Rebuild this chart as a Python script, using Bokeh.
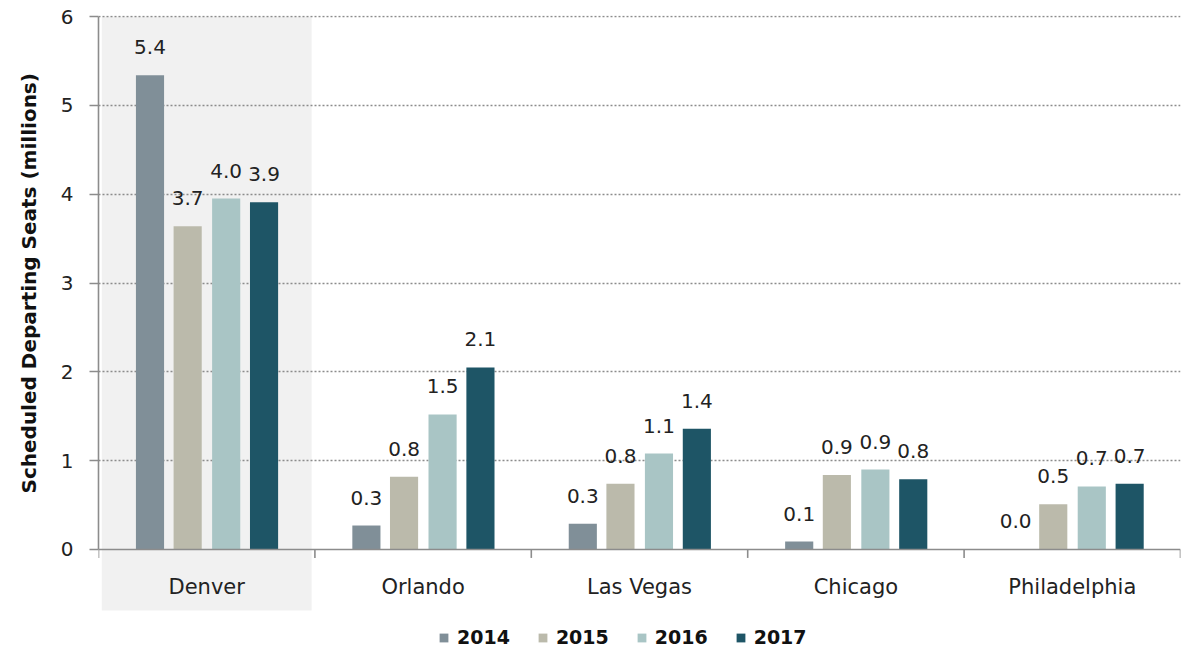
from bokeh.plotting import figure
from bokeh.models import ColumnDataSource, FixedTicker, Legend, LegendItem, BoxAnnotation, Range1d, Span, Title
from bokeh.transform import dodge
from bokeh.core.properties import value
from bokeh.embed import file_html
from bokeh.resources import INLINE

cities = ["Denver", "Orlando", "Las Vegas", "Chicago", "Philadelphia"]
years = ["2014", "2015", "2016", "2017"]
seats_2014 = [5.34, 0.27, 0.29, 0.09, 0.0]
seats_2015 = [3.64, 0.82, 0.74, 0.84, 0.51]
seats_2016 = [3.95, 1.52, 1.08, 0.90, 0.71]
seats_2017 = [3.91, 2.05, 1.36, 0.79, 0.74]
labels_2014 = ["5.4", "0.3", "0.3", "0.1", "0.0"]
labels_2015 = ["3.7", "0.8", "0.8", "0.9", "0.5"]
labels_2016 = ["4.0", "1.5", "1.1", "0.9", "0.7"]
labels_2017 = ["3.9", "2.1", "1.4", "0.8", "0.7"]
y_ticks = [0, 1, 2, 3, 4, 5, 6]
y_title = "Scheduled Departing Seats (millions)"

colors = ["#808f98", "#bbbaab", "#a9c5c5", "#1e5566"]
offsets = [-0.262, -0.088, 0.09, 0.265]
FONT = "DejaVu Sans"
AXIS_GREY = "#8c8c8c"

n = len(cities)
src = ColumnDataSource(dict(
    x=[i + 0.5 for i in range(n)], city=cities,
    s2014=seats_2014, s2015=seats_2015, s2016=seats_2016, s2017=seats_2017,
    l2014=labels_2014, l2015=labels_2015, l2016=labels_2016, l2017=labels_2017,
))
bounds = ColumnDataSource(dict(x=list(range(n + 1))))

# frame spans the category-label and legend area too; y=0 sits at the axis line
p = figure(width=1182, height=648, x_range=Range1d(0, n), y_range=Range1d(-1.1145, 6.0113),
           output_backend="svg", toolbar_location=None, x_axis_location=None,
           min_border_left=97, min_border_top=15, min_border_right=2, min_border_bottom=0)
p.outline_line_color = None

shade = BoxAnnotation(left=0.015, right=0.985, top=6, bottom=-0.687,
                      fill_color="#f1f1f1", fill_alpha=1, line_color=None, level="image")
p.add_layout(shade)

items = []
for yr, col, off in zip(years, colors, offsets):
    r = p.vbar(x=dodge("x", off), top="s" + yr, width=0.13, source=src,
               fill_color=col, line_color=None)
    p.text(x=dodge("x", off), y="s" + yr, text="l" + yr, source=src,
           text_align="center", text_baseline="alphabetic", y_offset=-28,
           text_font=value(FONT), text_font_size="20px", text_color="#222222")
    items.append(LegendItem(label=yr, renderers=[r]))

# category axis drawn at y = 0
p.add_layout(Span(location=0, dimension="width", line_color=AXIS_GREY, line_width=1.6))
p.segment(x0="x", y0=0, x1="x", y1=-0.095, source=bounds, line_color=AXIS_GREY, line_width=1.6)
p.text(x="x", y=-0.42, text="city", source=src, text_align="center", text_baseline="middle",
       text_font=value(FONT), text_font_size="21px", text_color="#222222")

p.xgrid.visible = False
p.ygrid.ticker = FixedTicker(ticks=y_ticks[1:])
p.ygrid.grid_line_color = AXIS_GREY
p.ygrid.grid_line_dash = "2 2"
p.ygrid.grid_line_width = 1.3

ya = p.yaxis[0]
ya.ticker = FixedTicker(ticks=y_ticks)
ya.bounds = (0, 6)
ya.minor_tick_line_color = None
ya.major_tick_in = 0
ya.major_tick_out = 9
ya.major_tick_line_color = AXIS_GREY
ya.major_tick_line_width = 1.6
ya.axis_line_color = AXIS_GREY
ya.axis_line_width = 1.6
ya.major_label_standoff = 16
ya.major_label_text_font = FONT
ya.major_label_text_font_size = "20px"
ya.major_label_text_color = "#222222"

ytitle = Title(text=y_title, align="left", offset=155, standoff=31, vertical_align="middle",
               text_font=FONT, text_font_size="20px", text_font_style="bold",
               text_color="#111111")
p.add_layout(ytitle, "left")

legend = Legend(items=items, orientation="horizontal", location=(340, 0),
                glyph_width=11, glyph_height=11, label_standoff=8, spacing=27,
                label_text_font=FONT, label_text_font_size="19px",
                label_text_font_style="bold", label_text_color="#111111",
                border_line_color=None, background_fill_alpha=0,
                margin=0, padding=0)
p.add_layout(legend)

open("out.html", "w").write(file_html(p, INLINE))
